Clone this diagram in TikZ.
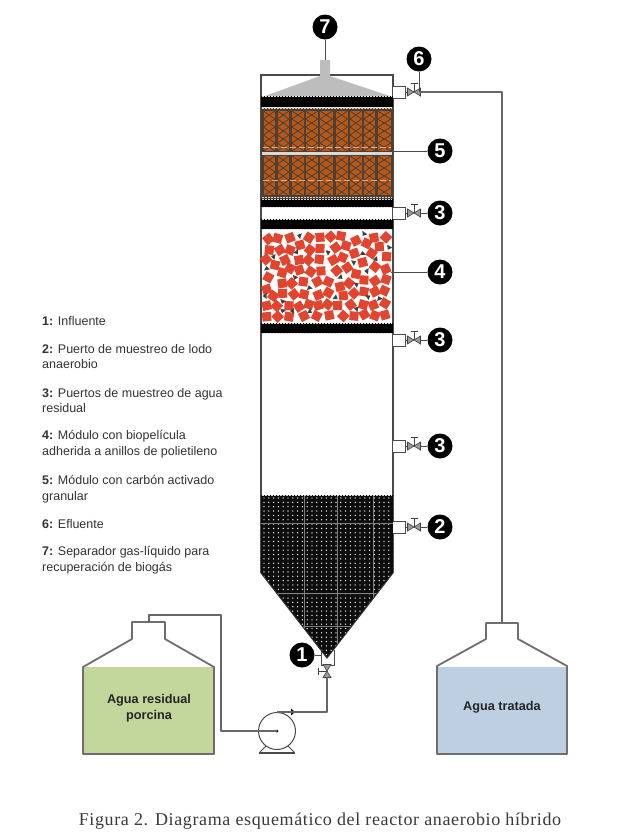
\documentclass[tikz,border=0pt]{standalone}
\usepackage{fontspec}
\setmainfont{Liberation Sans}
\newfontfamily\capfont[LetterSpace=3.5]{Liberation Serif}
\definecolor{wallc}{HTML}{4A4A4A}
\definecolor{pipec}{HTML}{666666}
\definecolor{tankc}{HTML}{6E6E6E}
\definecolor{conec}{HTML}{BDBDBD}
\definecolor{orangec}{HTML}{B5581A}
\definecolor{brownc}{HTML}{4F3E32}
\definecolor{redc}{HTML}{E2452F}
\definecolor{greenc}{HTML}{C3D69B}
\definecolor{bluec}{HTML}{BFCFE2}
\definecolor{capc}{HTML}{3A3A3A}
\tikzset{
  x=1pt,y=-1pt,
  wall/.style={draw=wallc,line width=1.1pt},
  pipe/.style={draw=pipec,line width=1.2pt},
  tagline/.style={draw=wallc,line width=1pt},
  tankline/.style={draw=tankc,line width=1.8pt,line join=round},
  band/.style={fill=black,draw=none},
  edgedash/.style={draw=white!85!black,line width=0.7pt,dash pattern=on 1.5pt off 1.5pt},
  tag/.style={circle,fill=black,text=white,minimum size=25pt,inner sep=0pt,font=\fontsize{20}{20}\selectfont\bfseries},
  legend/.style={anchor=west,inner sep=0pt,font=\fontsize{12.5}{15.5}\selectfont,text=black!80,align=left},
  tanklabel/.style={font=\fontsize{12.7}{16}\selectfont\bfseries,text=black!85,align=center,inner sep=0pt},
  valvepic/.pic={
    \draw[draw=black!75,fill=black!40,line width=0.6pt] (-6.5,-4)--(6.5,4)--(6.5,-4)--(-6.5,4)--cycle;
    \draw[draw=black!75,line width=0.8pt] (0,0)--(0,-9) (-3.5,-9)--(3.5,-9);
  }
}
\begin{document}
\begin{tikzpicture}
\useasboundingbox (0,0) rectangle (644,839);
\fill[white] (0,0) rectangle (644,839);

% tanks
\fill[greenc] (83,667) rectangle (214,754);
\draw[tankline] (83,667)--(132,639)--(132,622)--(165,622)--(165,639)--(214,667)--(214,754)--(83,754)--cycle;
\fill[bluec] (437,667) rectangle (567,754);
\draw[tankline] (437,666)--(486,639)--(486,623)--(518,623)--(518,639)--(567,666)--(567,754)--(437,754)--cycle;
\node[tanklabel] (tankA) at (149,708) {Agua residual\\porcina};
\node[tanklabel] (tankB) at (502,707) {Agua tratada};
\coordinate (neckA) at (149,622);
\coordinate (neckB) at (502,623);

% pump
\node[circle,draw=wallc,line width=1pt,minimum size=37pt,inner sep=0pt] (pump) at (277,731) {};
\draw[draw=wallc,line width=1pt] (266,746)--(260,752) (288,746)--(294,752);
\draw[draw=wallc,line width=1.4pt] (259,753)--(295,753);
\coordinate (pumpC) at (277,731);
\coordinate (pumpOut) at (277,712);
\fill[black] (291,708.5)--(295,712)--(291,715.5)--cycle;
\fill[black] (pumpC) circle (1.5);

% column walls & stages
\fill[white] (261,75) rectangle (393,573);
\draw[wall] (261,573)--(261,75)--(393,75)--(393,573);

% separator
\fill[conec] (265,96)--(320,76)--(320,60)--(330,60)--(330,76)--(390,96)--cycle;

% bands
\foreach \a/\b in {96/107,199/207,219/229,323/333}{
  \fill[band] (261,\a) rectangle (393,\b);
  \draw[edgedash] (262,\a) -- (392,\a);
  \draw[edgedash] (262,\b) -- (392,\b);
}

% carbon module
\fill[brownc] (261,108) rectangle (393,199);
\fill[white!85!black] (262,152) rectangle (392,154.5);
\draw[edgedash] (262,108.5)--(392,108.5) (262,197.5)--(392,197.5);
\foreach \xa/\xb in {263.5/275,277.5/289,292/304,305.5/318,320/332.5,335.5/347.5,350/361.5,364/375,377.5/391}{
  \foreach \ya/\yb in {111/150.5,156/195}{
    \fill[orangec] (\xa,\ya) rectangle (\xb,\yb);
    \begin{scope}
      \clip (\xa,\ya) rectangle (\xb,\yb);
      \foreach \k in {0,...,4}{
        \draw[brownc,line width=0.8pt] (\xa,\ya+\k*8)--(\xb,\ya+\k*8+8);
        \draw[brownc,line width=0.8pt] (\xb,\ya+\k*8)--(\xa,\ya+\k*8+8);
      }
    \end{scope}
  }
}
\draw[orangec!50!white,line width=0.5pt,dash pattern=on 6pt off 3pt] (263,147)--(391,147) (263,180)--(391,180);

% biofilm module
\begin{scope}[shift={(240,200)},x=0.3333pt,y=-0.3333pt]
\foreach[count=\i] \px/\py in {
85/117,113/115,150/113,207/113,240/112,272/110,303/108,348/122,380/130,402/113,438/112,
88/150,120/150,150/150,180/135,210/150,240/145,287/143,318/137,343/160,395/160,418/140,
78/178,105/195,135/180,150/205,177/180,205/180,238/178,280/180,308/172,368/187,405/200,440/170,322/203,
127/218,178/210,212/215,243/213,290/212,348/222,437/207,85/232,
127/250,155/250,190/245,232/245,265/245,300/260,327/250,372/240,405/243,438/238,
80/268,100/288,128/280,162/283,192/283,235/285,265/278,310/287,342/280,372/275,405/275,433/272,
80/317,110/318,147/317,177/320,207/313,235/316,263/313,293/317,332/314,370/314,400/315,435/310,
80/350,113/350,147/350,192/348,230/348,268/346,310/348,342/348,373/343,405/347,435/345}{
  \pgfmathsetmacro\rot{mod(\i*37,90)}
  \fill[redc,rotate around={\rot:(\px,\py)}] (\px-13.5,\py-13.5) rectangle (\px+13.5,\py+13.5);
}
\foreach[count=\i] \px/\py in {
178/107,372/102,170/157,265/157,368/160,100/170,447/143,408/178,342/187,80/205,380/213,165/233,
302/232,350/253,208/263,75/288,128/305,287/293,385/290,418/295,157/333,128/333,210/335,350/326}{
  \pgfmathsetmacro\rot{mod(\i*73,360)}
  \fill[black!75,rotate around={\rot:(\px,\py)}] (\px-9,\py+5)--(\px+9,\py+5)--(\px,\py-7)--cycle;
}
\end{scope}

% bottom fitting
\draw[draw=wallc,line width=0.9pt,fill=white] (321,650)--(321,665)--(334,665)--(334,650);

% sludge bed
\begin{scope}
  \clip (261,495)--(393,495)--(393,573)--(327,658)--(261,573)--cycle;
  \fill[black!95] (261,495) rectangle (393,660);
  \foreach \xx in {0,...,27}{
    \foreach \yy in {0,...,37}{
      \fill[white!95!black] (264+\xx*4.8,498+\yy*4.35) circle (0.72);
    }
  }
  \draw[black!50,line width=0.5pt] (261,523)--(393,523) (261,593)--(393,593) (261,626)--(393,626)
     (304,495)--(304,660) (337,495)--(337,660) (373,495)--(373,660);
\end{scope}
\draw[draw=black!80,line width=1pt] (261,573)--(327,658)--(393,573);
\draw[edgedash] (262,495)--(392,495);

% inlet valve (vertical)
\pic[rotate=90] at (327,671) {valvepic};
\coordinate (inV) at (327,677);

% outlet ports
\foreach \nm/\py in {p6/92,pa/213,pb/340,pc/446,pd/527}{
  \draw[draw=wallc,line width=1pt,fill=white] (393,\py-6) -- (405,\py-6) -- (405,\py+6) -- (393,\py+6);
  \draw[draw=wallc,line width=0.9pt] (405,\py)--(408,\py);
  \pic at (414,\py) {valvepic};
  \coordinate (\nm) at (420,\py);
}

% pipes
\coordinate (pa1) at (149,615);
\coordinate (pa2) at (221,615);
\coordinate (pa3) at (221,731);
\coordinate (pb1) at (327,712);
\coordinate (topR) at (502,92);
\draw[pipe,line join=round] (neckA)--(pa1)--(pa2)--(pa3)--(pumpC);
\draw[pipe,line join=round] (pumpOut)--(pb1)--(inV);
\draw[pipe,line join=round] (p6)--(topR)--(neckB);

% number tags
\node[tag] (n7) at (325,27) {7};
\node[tag] (n6) at (419,59) {6};
\node[tag] (n5) at (440,151) {5};
\node[tag] (n3a) at (440,213) {3};
\node[tag] (n4) at (440,272) {4};
\node[tag] (n3b) at (440,340) {3};
\node[tag] (n3c) at (440,446) {3};
\node[tag] (n2) at (440,527) {2};
\node[tag] (n1) at (302,655) {1};
\coordinate (sepTop) at (325,60);
\coordinate (v6) at (419,92);
\coordinate (m5) at (391,151);
\coordinate (m4) at (391,272);
\coordinate (f1) at (321,655);
\draw[tagline] (n7)--(sepTop);
\draw[tagline] (n6)--(v6);
\draw[tagline] (n5)--(m5);
\draw[tagline] (n4)--(m4);
\draw[tagline] (n3a)--(pa);
\draw[tagline] (n3b)--(pb);
\draw[tagline] (n3c)--(pc);
\draw[tagline] (n2)--(pd);
\draw[tagline] (n1)--(f1);

% legend
\node[legend] (l1) at (42,321) {\textbf{1:} Influente};
\node[legend] (l2) at (42,356.5) {\textbf{2:} Puerto de muestreo de lodo\\anaerobio};
\node[legend] (l3) at (42,400.5) {\textbf{3:} Puertos de muestreo de agua\\residual};
\node[legend] (l4) at (42,444) {\textbf{4:} Módulo con biopelícula\\adherida a anillos de polietileno};
\node[legend] (l5) at (42,489) {\textbf{5:} Módulo con carbón activado\\granular};
\node[legend] (l6) at (42,524) {\textbf{6:} Efluente};
\node[legend] (l7) at (42,560) {\textbf{7:} Separador gas-líquido para\\recuperación de biogás};

% caption
\node[inner sep=0pt,text=capc,font=\capfont\fontsize{18}{20}\selectfont] (cap) at (320,821) {Figura 2. Diagrama esquemático del reactor anaerobio híbrido};
\end{tikzpicture}
\end{document}
